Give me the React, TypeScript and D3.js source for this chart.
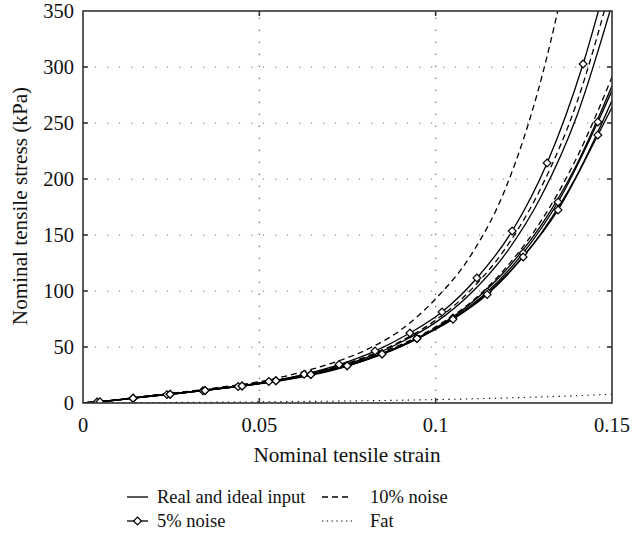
import { useEffect, useRef } from "react";
import * as d3 from "d3";

const strainGrid = [0, 0.01, 0.02, 0.03, 0.04, 0.05, 0.06, 0.07, 0.08, 0.09, 0.1, 0.11, 0.12, 0.13, 0.14, 0.15];

// real and ideal input (solid)
const realUpper = [0, 2.9, 6.6, 10, 13.8, 17.8, 23, 30.5, 40, 54, 72, 98, 134, 185, 256, 356];
const realLowerA = [0, 2.9, 6.6, 10, 13.6, 17.4, 22.5, 29.5, 39, 51, 67, 89, 119, 159, 213, 283];
const realLowerB = [0, 2.8, 6.4, 9.8, 13.3, 17, 22, 28.5, 38, 50, 66, 86, 114, 152, 203, 270];

// 10% noise (dashed)
const noise10Steep = [0, 3, 7, 10.5, 14.5, 19, 26, 35, 47, 65, 93, 132, 193, 290, 430, 600];
const noise10Upper = [0, 3, 6.8, 10.2, 14, 18, 23.5, 31, 41, 55, 74, 101, 139, 193, 268, 375];
const noise10Lower = [0, 3, 6.8, 10.2, 14, 17.8, 23, 30, 40, 52, 68, 90, 121, 163, 219, 291];

// fat (dotted)
const fat = [0, 0.2, 0.4, 0.6, 0.8, 1, 1.3, 1.6, 2, 2.5, 3, 3.7, 4.5, 5.4, 6.5, 7.8];

// 5% noise (solid with diamonds), inner points are the markers, first/last are line ends
const noise5UpperStrain = [0, 0.004, 0.0142, 0.0238, 0.034, 0.044, 0.0527, 0.0627, 0.0726, 0.0828, 0.0927, 0.1018, 0.1117, 0.1217, 0.1316, 0.1418, 0.15];
const noise5UpperStress = [0, 0.9, 4.3, 7.5, 11, 14.8, 19.2, 25.6, 34.3, 46.4, 62.5, 81.3, 111.6, 153.6, 214.3, 302.7, 395];
const noise5LowerStrain = [0, 0.0048, 0.0142, 0.0247, 0.0346, 0.0451, 0.0547, 0.0646, 0.0749, 0.0848, 0.0947, 0.1049, 0.1146, 0.1248, 0.1347, 0.146, 0.15];
const noise5LowerAStress = [0, 1, 4.3, 7.8, 11.2, 15.2, 19.8, 25.5, 33.2, 43.8, 57.5, 75.9, 99.1, 133.9, 179.5, 250.9, 279];
const noise5LowerBStress = [0, 1, 4.3, 7.8, 11.2, 15.2, 19.8, 25.5, 33.2, 43.8, 57.5, 74.8, 96.8, 130.4, 172.3, 239.3, 264];

const xTicks = [0, 0.05, 0.1, 0.15];
const xTickLabels = ["0", "0.05", "0.1", "0.15"];
const yTicks = [0, 50, 100, 150, 200, 250, 300, 350];

const legendItems = [
  { label: "Real and ideal input", style: "solid" },
  { label: "10% noise", style: "dashed" },
  { label: "5% noise", style: "diamond" },
  { label: "Fat", style: "dotted" },
];

const FONT = '"Liberation Serif", "Times New Roman", "DejaVu Serif", serif';

const App = () => {
  const ref = useRef<SVGSVGElement>(null);

  useEffect(() => {
    const svg = d3.select(ref.current);
    svg.selectAll("*").remove();

    const left = 83, right = 612, top = 11, bottom = 403;
    const x = d3.scaleLinear().domain([0, 0.15]).range([left, right]);
    const y = d3.scaleLinear().domain([0, 350]).range([bottom, top]);

    svg.append("defs").append("clipPath").attr("id", "plotclip")
      .append("rect").attr("x", left).attr("y", top).attr("width", right - left).attr("height", bottom - top);

    // dotted grid
    const grid = svg.append("g").attr("stroke", "#666").attr("stroke-width", 1.2).attr("stroke-dasharray", "1.2,10.8");
    xTicks.slice(1, -1).forEach((t) => {
      grid.append("line").attr("x1", x(t)).attr("x2", x(t)).attr("y1", bottom).attr("y2", top);
    });
    yTicks.slice(1, -1).forEach((t) => {
      grid.append("line").attr("x1", left).attr("x2", right).attr("y1", y(t)).attr("y2", y(t));
    });

    const plot = svg.append("g").attr("clip-path", "url(#plotclip)");
    const line = d3.line<[number, number]>().x((d) => x(d[0])).y((d) => y(d[1])).curve(d3.curveMonotoneX);

    function drawCurve(xs: number[], ys: number[], dash: string | null, width = 1.3) {
      const pts = xs.map((v, i) => [v, ys[i]] as [number, number]);
      plot.append("path").attr("d", line(pts)).attr("fill", "none").attr("stroke", "#000")
        .attr("stroke-width", width).attr("stroke-dasharray", dash);
      return pts;
    }

    // rotated square, about 8px across
    const diamond = d3.symbol().type(d3.symbolSquare).size(30);

    function drawMarkers(pts: [number, number][]) {
      plot.selectAll(null).data(pts.slice(1, -1)).enter().append("path")
        .attr("d", diamond).attr("transform", (d) => `translate(${x(d[0])},${y(d[1])}) rotate(45)`)
        .attr("fill", "#fff").attr("stroke", "#000").attr("stroke-width", 1.2);
    }

    drawCurve(strainGrid, fat, "1.3,4.5", 1.1);
    drawCurve(strainGrid, noise10Steep, "6,4");
    drawCurve(strainGrid, noise10Upper, "6,4");
    drawCurve(strainGrid, noise10Lower, "6,4");
    drawCurve(strainGrid, realUpper, null);
    drawCurve(strainGrid, realLowerA, null);
    drawCurve(strainGrid, realLowerB, null);
    const u = drawCurve(noise5UpperStrain, noise5UpperStress, null);
    const la = drawCurve(noise5LowerStrain, noise5LowerAStress, null);
    const lb = drawCurve(noise5LowerStrain, noise5LowerBStress, null);
    drawMarkers(u);
    drawMarkers(la);
    drawMarkers(lb);

    // frame and inward ticks
    const frame = svg.append("g").attr("stroke", "#333").attr("stroke-width", 1.6).attr("fill", "none");
    frame.append("rect").attr("x", left).attr("y", top).attr("width", right - left).attr("height", bottom - top);
    xTicks.slice(1, -1).forEach((t) => {
      frame.append("line").attr("x1", x(t)).attr("x2", x(t)).attr("y1", bottom).attr("y2", bottom - 5);
      frame.append("line").attr("x1", x(t)).attr("x2", x(t)).attr("y1", top).attr("y2", top + 5);
    });
    yTicks.slice(1, -1).forEach((t) => {
      frame.append("line").attr("x1", left).attr("x2", left + 5).attr("y1", y(t)).attr("y2", y(t));
      frame.append("line").attr("x1", right).attr("x2", right - 5).attr("y1", y(t)).attr("y2", y(t));
    });

    const text = svg.append("g").style("font-family", FONT).style("font-size", "20.5px").attr("fill", "#111");
    xTicks.forEach((t, i) => {
      text.append("text").attr("x", x(t)).attr("y", bottom + 29).attr("text-anchor", "middle").text(xTickLabels[i]);
    });
    yTicks.forEach((t) => {
      text.append("text").attr("x", left - 9).attr("y", y(t)).attr("dy", "0.35em").attr("text-anchor", "end").text(t);
    });
    text.append("text").attr("x", 347).attr("y", 462).attr("text-anchor", "middle")
      .style("font-size", "21.2px").text("Nominal tensile strain");
    text.append("text").attr("transform", `translate(27,206) rotate(-90)`)
      .attr("text-anchor", "middle").style("font-size", "21.2px").text("Nominal tensile stress (kPa)");

    // legend
    const lg = svg.append("g");
    legendItems.forEach((item, i) => {
      const col = i % 2, row = Math.floor(i / 2);
      const lx = col === 0 ? 127 : 322;
      const ly = 497 + row * 24;
      const tx = col === 0 ? 157 : 370;
      const seg = lg.append("line").attr("x1", lx).attr("x2", lx + (col === 0 ? 21 : 30)).attr("y1", ly).attr("y2", ly)
        .attr("stroke", "#000").attr("stroke-width", 1.3);
      if (item.style === "dashed") seg.attr("stroke-dasharray", "6,4");
      if (item.style === "dotted") seg.attr("stroke-dasharray", "1.3,3.5").attr("stroke-width", 1.1);
      if (item.style === "diamond") {
        lg.append("path").attr("d", diamond).attr("transform", `translate(${lx + 10.5},${ly}) rotate(45)`)
          .attr("fill", "#fff").attr("stroke", "#000").attr("stroke-width", 1.2);
      }
      lg.append("text").attr("x", tx).attr("y", ly).attr("dy", "0.35em")
        .style("font-family", FONT).style("font-size", "18.5px").attr("fill", "#111").text(item.label);
    });
  }, []);

  return (
    <svg ref={ref} width={644} height={537}
      style={{ position: "absolute", left: 0, top: 0, background: "#fff" }} />
  );
};

export default App;
